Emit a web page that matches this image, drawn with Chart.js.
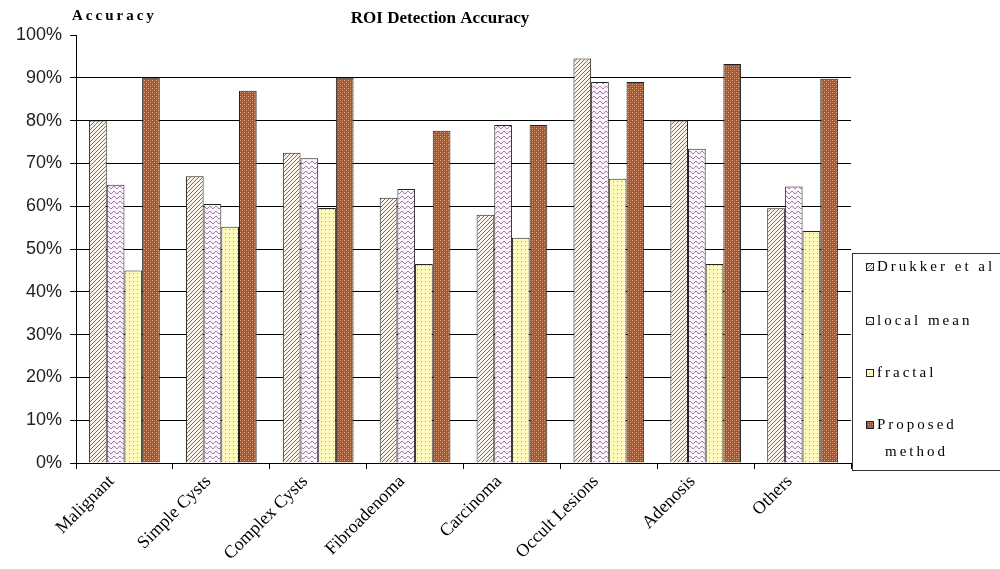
<!DOCTYPE html>
<html>
<head>
<meta charset="utf-8">
<script src="https://cdn.jsdelivr.net/npm/chart.js@4.4.0/dist/chart.umd.min.js"></script>
<style>
  html, body { margin: 0; padding: 0; background: #fff; }
  #chart { display: block; }
</style>
</head>
<body>
<canvas id="chart" width="1000" height="569"></canvas>
<script>
  const categories = ["Malignant", "Simple Cysts", "Complex Cysts", "Fibroadenoma", "Carcinoma", "Occult Lesions", "Adenosis", "Others"];
  const drukker = [80, 67, 72.5, 62, 58, 94.5, 80, 59.5];
  const localMean = [65, 60.5, 71.2, 64, 79, 89, 73.4, 64.6];
  const fractal = [45, 55.2, 59.6, 46.5, 52.6, 66.4, 46.5, 54.2];
  const proposed = [90, 87, 90, 77.6, 79, 89, 93.2, 89.8];
  const yTicks = [0, 10, 20, 30, 40, 50, 60, 70, 80, 90, 100];

  function makePattern(kind) {
    const c = document.createElement("canvas");
    const g = c.getContext("2d");
    if (kind === "diag") {
      c.width = 4; c.height = 4;
      g.fillStyle = "#faf3ea"; g.fillRect(0, 0, 4, 4);
      g.strokeStyle = "#8a6a55"; g.lineWidth = 1;
      g.beginPath(); g.moveTo(-1, 5); g.lineTo(5, -1); g.stroke();
      g.beginPath(); g.moveTo(-1, 1); g.lineTo(1, -1); g.stroke();
      g.beginPath(); g.moveTo(3, 5); g.lineTo(5, 3); g.stroke();
    } else if (kind === "zigzag") {
      c.width = 6; c.height = 5;
      g.fillStyle = "#fcf3fc"; g.fillRect(0, 0, 6, 5);
      g.strokeStyle = "#a182a6"; g.lineWidth = 1;
      g.beginPath(); g.moveTo(0, 1); g.lineTo(3, 4); g.lineTo(6, 1); g.stroke();
    } else if (kind === "dots") {
      c.width = 4; c.height = 4;
      g.fillStyle = "#fff9bd"; g.fillRect(0, 0, 4, 4);
      g.fillStyle = "#b3a468";
      g.fillRect(1, 1, 1, 1);
    } else {
      c.width = 4; c.height = 4;
      g.fillStyle = "#a4552d"; g.fillRect(0, 0, 4, 4);
      g.fillStyle = "#e2a788";
      g.fillRect(0, 0, 1, 1); g.fillRect(2, 2, 1, 1);
      g.fillStyle = "#c07850";
      g.fillRect(2, 0, 1, 1); g.fillRect(0, 2, 1, 1);
    }
    return g.createPattern(c, "repeat");
  }

  const fills = [makePattern("diag"), makePattern("zigzag"), makePattern("dots"), makePattern("check")];
  const names = ["Drukker et al", "local mean", "fractal", ["Proposed", "method"]];
  const series = [drukker, localMean, fractal, proposed];

  // title, axis caption and boxed legend
  const decorations = {
    id: "decorations",
    afterDraw(chart) {
      const ctx = chart.ctx;
      ctx.save();
      ctx.fillStyle = "#000";
      ctx.textBaseline = "middle";
      ctx.textAlign = "center";
      ctx.font = "bold 17px 'Liberation Serif'";
      ctx.fillText("ROI Detection Accuracy", 440, 19);
      ctx.textAlign = "left";
      ctx.font = "bold 15px 'Liberation Serif'";
      ctx.letterSpacing = "3px";
      ctx.fillText("Accuracy", 72, 16);

      const area = chart.chartArea;
      const bx = area.right + 1, by = 253, bw = 160, bh = 217;
      ctx.letterSpacing = "0px";
      ctx.fillStyle = "#fff";
      ctx.fillRect(bx, by, bw, bh);
      ctx.strokeStyle = "#333";
      ctx.lineWidth = 1;
      ctx.strokeRect(bx + 0.5, by + 0.5, bw, bh);

      const rows = [267, 321, 373, 425];
      ctx.font = "15px 'Liberation Serif'";
      ctx.letterSpacing = "3px";
      names.forEach((name, i) => {
        const y = rows[i];
        ctx.fillStyle = fills[i];
        ctx.fillRect(866, y - 4, 8, 8);
        ctx.strokeStyle = "#222";
        ctx.strokeRect(866.5, y - 3.5, 7, 7);
        ctx.fillStyle = "#000";
        const lines = Array.isArray(name) ? name : [name];
        lines.forEach((t, j) => ctx.fillText(t, j === 0 ? 877 : 885, y + j * 27));
      });
      ctx.restore();
    }
  };

  new Chart(document.getElementById("chart"), {
    type: "bar",
    data: {
      labels: categories,
      datasets: series.map((d, i) => ({
        label: Array.isArray(names[i]) ? names[i].join(" ") : names[i],
        data: d,
        backgroundColor: fills[i],
        borderColor: "#222",
        borderWidth: 1,
        categoryPercentage: 0.73,
        barPercentage: 1.0
      }))
    },
    options: {
      responsive: false,
      animation: false,
      layout: { padding: { top: 35, right: 149, left: 0, bottom: 0 } },
      plugins: { legend: { display: false }, title: { display: false }, tooltip: { enabled: false } },
      scales: {
        x: {
          grid: { display: true, drawOnChartArea: false, offset: true, color: "#000", tickLength: 6 },
          border: { color: "#000", width: 1 },
          ticks: {
            minRotation: 45, maxRotation: 45, color: "#000", padding: 2, labelOffset: -13,
            font: { family: "'Liberation Serif'", size: 18 }
          },
          afterFit(s) { s.height = 106; }
        },
        y: {
          min: 0, max: 100,
          afterBuildTicks(s) { s.ticks = yTicks.map(v => ({ value: v })); },
          grid: {
            color: c => (c.tick && (c.tick.value === 100 || c.tick.value === 0)) ? "rgba(0,0,0,0)" : "#000",
            tickColor: "#000", tickLength: 6
          },
          border: { color: "#000", width: 1 },
          ticks: {
            color: "#222", padding: 8,
            font: { family: "'Liberation Sans'", size: 18 },
            callback: v => v + "%"
          },
          afterFit(s) { s.width = 76; }
        }
      }
    },
    plugins: [decorations]
  });
</script>
</body>
</html>
